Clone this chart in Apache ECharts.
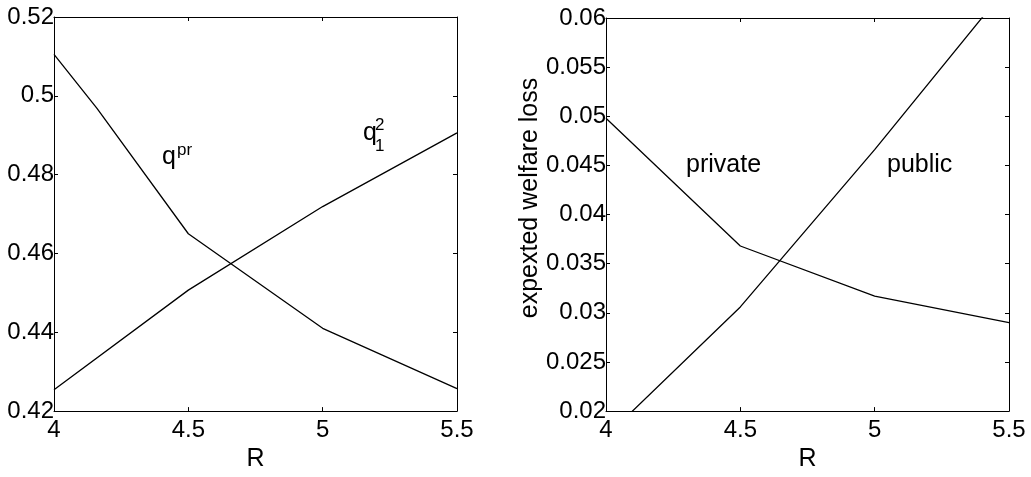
<!DOCTYPE html>
<html>
<head>
<meta charset="utf-8">
<script src="https://cdn.jsdelivr.net/npm/echarts@6/dist/echarts.min.js"></script>
<style>
  html, body { margin: 0; padding: 0; background: #fff; }
  #main { width: 1031px; height: 477px; }
</style>
</head>
<body>
<div id="main"></div>
<script>
// values
var rTicks = [4, 4.5, 5, 5.5];
var qprR = [4, 4.16, 4.5, 5, 5.5];
var qpr = [0.5105, 0.4968, 0.465, 0.441, 0.4257];
var q12R = [4, 4.5, 5, 5.5];
var q12 = [0.4254, 0.4507, 0.4719, 0.4906];
var lossR = [4, 4.5, 5, 5.5];
var lossPrivate = [0.0498, 0.0368, 0.0317, 0.029];
var lossPublic = [0.0174, 0.0306, 0.0466, 0.0634];

var FONT = 'Liberation Sans, Arial, sans-serif';

function pairs(xs, ys) {
    return xs.map(function (x, i) { return [x, ys[i]]; });
}

function xAx(grid, pos, labels) {
    return {
        type: 'value', gridIndex: grid, position: pos,
        min: rTicks[0], max: rTicks[rTicks.length - 1], interval: 0.5,
        name: labels ? 'R' : '', nameLocation: 'middle', nameGap: 33,
        nameTextStyle: { color: '#000', fontSize: 25, fontFamily: FONT },
        axisLine: { show: true, onZero: false, lineStyle: { color: '#000', width: 1 } },
        axisTick: { show: true, inside: true, length: 4, lineStyle: { color: '#000' } },
        axisLabel: { show: labels, color: '#000', fontSize: 24, fontFamily: FONT, margin: 7 },
        splitLine: { show: false }
    };
}

function yAx(grid, pos, labels, min, max, step) {
    return {
        type: 'value', gridIndex: grid, position: pos,
        min: min, max: max, interval: step,
        axisLine: { show: true, onZero: false, lineStyle: { color: '#000', width: 1 } },
        axisTick: { show: true, inside: true, length: 4, lineStyle: { color: '#000' } },
        axisLabel: { show: labels, color: '#000', fontSize: 24, fontFamily: FONT, margin: 0 },
        splitLine: { show: false }
    };
}

function line(xi, yi, data) {
    return {
        type: 'line', xAxisIndex: xi, yAxisIndex: yi, data: data,
        showSymbol: false, clip: true, animation: false,
        lineStyle: { color: '#000', width: 1.3 }
    };
}

var chart = echarts.init(document.getElementById('main'));
chart.setOption({
    backgroundColor: '#fff',
    animation: false,
    grid: [
        { left: 54, right: 574, top: 17, bottom: 59 },
        { left: 606, right: 22, top: 18, bottom: 59 }
    ],
    xAxis: [xAx(0, 'bottom', true), xAx(0, 'top', false), xAx(1, 'bottom', true), xAx(1, 'top', false)],
    yAxis: [
        yAx(0, 'left', true, 0.42, 0.52, 0.02), yAx(0, 'right', false, 0.42, 0.52, 0.02),
        yAx(1, 'left', true, 0.02, 0.06, 0.005), yAx(1, 'right', false, 0.02, 0.06, 0.005)
    ],
    series: [
        line(0, 0, pairs(qprR, qpr)),
        line(0, 0, pairs(q12R, q12)),
        line(2, 2, pairs(lossR, lossPrivate)),
        line(2, 2, pairs(lossR, lossPublic))
    ],
    graphic: [
        { type: 'text', left: 162, top: 145, style: { text: 'q', font: '25px ' + FONT, fill: '#000' } },
        { type: 'text', left: 177, top: 142, style: { text: 'pr', font: '17px ' + FONT, fill: '#000' } },
        { type: 'text', left: 363, top: 121, style: { text: 'q', font: '25px ' + FONT, fill: '#000' } },
        { type: 'text', left: 375, top: 117, style: { text: '2', font: '17px ' + FONT, fill: '#000' } },
        { type: 'text', left: 375, top: 138, style: { text: '1', font: '17px ' + FONT, fill: '#000' } },
        { type: 'text', left: 686, top: 153, style: { text: 'private', font: '25px ' + FONT, fill: '#000' } },
        { type: 'text', left: 887, top: 153, style: { text: 'public', font: '25px ' + FONT, fill: '#000' } },
        {
            type: 'text', x: 530, y: 198, rotation: Math.PI / 2,
            style: { text: 'expexted welfare loss', font: '25px ' + FONT, fill: '#000', align: 'center', verticalAlign: 'middle' }
        }
    ]
});
</script>
</body>
</html>
